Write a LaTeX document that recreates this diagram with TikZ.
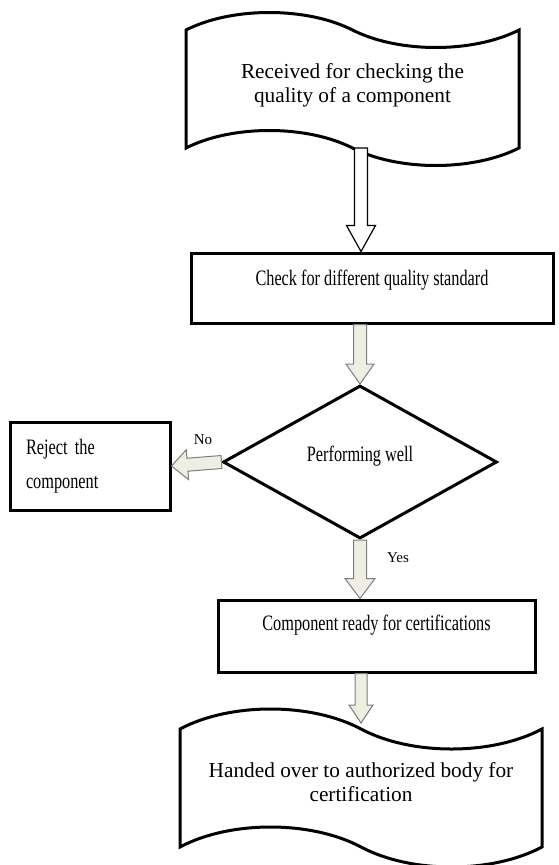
\documentclass[tikz,border=0pt]{standalone}
\usepackage{fontspec}
\setmainfont{Liberation Serif}
\newfontfamily\narrowserif[FakeStretch=0.74]{Liberation Serif}
\usetikzlibrary{shapes.geometric, shapes.symbols, calc}

\definecolor{arrowfill}{RGB}{238,238,226}
\definecolor{arrowline}{RGB}{125,125,125}

% block arrow: style, from, to, half shaft, half head, head length
\newcommand{\flowarrow}[6]{%
  \coordinate (hb) at ($(#3)!#6!(#2)$);
  \draw[#1] ($(#2)!#4!90:(#3)$) -- ($(hb)!#4!90:(#3)$) -- ($(hb)!#5!90:(#3)$) -- (#3)
    -- ($(hb)!#5!-90:(#3)$) -- ($(hb)!#4!-90:(#3)$) -- ($(#2)!#4!-90:(#3)$) -- cycle;
}

\begin{document}
\begin{tikzpicture}[x=1pt,y=-1pt,
  banner/.style={tape, draw, line width=3pt, inner sep=0pt, align=center,
    tape bend top=out and in, tape bend bottom=out and in,
    font=\fontsize{21.3}{24}\selectfont},
  procbox/.style={rectangle, draw, line width=3pt, inner sep=0pt, align=center,
    font=\narrowserif\fontsize{22}{34}\selectfont},
  decision/.style={diamond, draw, line width=3pt, inner sep=0pt, align=center,
    font=\narrowserif\fontsize{22}{26}\selectfont},
  hollow/.style={draw=black, fill=white, line width=1.2pt, line join=miter},
  solid/.style={draw=arrowline, fill=arrowfill, line width=1pt, line join=miter},
  answer/.style={inner sep=0pt, font=\fontsize{15}{18}\selectfont}]
\useasboundingbox (0,0) rectangle (558,865);

\node[banner, minimum width=333pt, minimum height=153pt, tape bend height=35pt, text depth=12pt]
  (recv) at (352.5,89) {Received for checking the\\quality of a component};
\node[procbox, minimum width=362pt, minimum height=70pt, text depth=20pt]
  (check) at (372,288) {Check for different quality standard};
\node[decision, minimum width=274pt, minimum height=153pt, text depth=16pt]
  (dec) at (360,462) {Performing well};
\node[procbox, minimum width=160pt, minimum height=88pt, align=left, text width=128pt]
  (rej) at (90,466) {Reject the\\component};
\node[procbox, minimum width=317pt, minimum height=72pt, text depth=26pt]
  (cert) at (376.5,636) {Component ready for certifications};
\node[banner, minimum width=362pt, minimum height=158pt, tape bend height=40pt, text depth=12pt]
  (final) at (361,788) {Handed over to authorized body for\\certification};

\node[answer] (no) at (203,440) {No};
\node[answer] (yes) at (398,558) {Yes};

\coordinate (a1s) at ([xshift=8.5pt,yshift=-59pt]recv.center);
\coordinate (a1e) at (a1s |- check.north);
\coordinate (a2s) at (dec.north |- check.south);
\coordinate (a4e) at (dec.south |- cert.north);
\coordinate (a5s) at (final.center |- cert.south);
\coordinate (a5e) at ([yshift=65pt]final.center);

\flowarrow{hollow}{a1s}{a1e}{6.5pt}{14.5pt}{26pt}
\flowarrow{solid}{a2s}{dec.north}{6.5pt}{14pt}{20pt}
\flowarrow{solid}{dec.west}{rej.east}{6.5pt}{15pt}{16pt}
\flowarrow{solid}{dec.south}{a4e}{6.5pt}{15pt}{20pt}
\flowarrow{solid}{a5s}{a5e}{6pt}{12pt}{18pt}
\end{tikzpicture}
\end{document}
